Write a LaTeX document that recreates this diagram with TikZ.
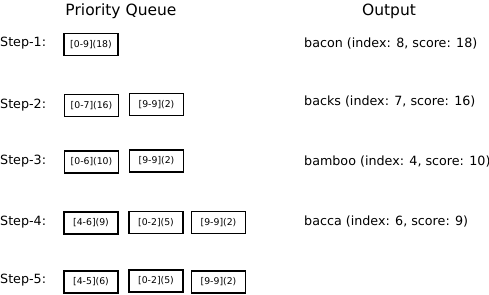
\documentclass[tikz,border=0pt]{standalone}
\usepackage{fontspec}
\setmainfont{DejaVu Sans}
\usepackage{tikz}

\begin{document}
\begin{tikzpicture}[x=1pt,y=-1pt]
      \tikzstyle{qbox}=[draw,line width=1.8pt,minimum width=54pt,minimum height=22pt,inner sep=0pt,font=\fontsize{9.3}{10}\selectfont]
      \tikzstyle{steplabel}=[anchor=base west,inner sep=0pt,font=\fontsize{12.7}{14}\selectfont]
      \tikzstyle{title}=[anchor=base,inner sep=0pt,font=\fontsize{15.5}{17}\selectfont]
      \useasboundingbox (0,0) rectangle (489,294);
      \node[title] (T_Q) at (121,15.5) {Priority Queue};
      \node[title] (T_O) at (389,15.5) {Output};
      % steps
      \node[steplabel] (S_1) at (0,47)    {Step-1:};
      \node[steplabel] (S_2) at (0,108)   {Step-2:};
      \node[steplabel] (S_3) at (0,164.5) {Step-3:};
      \node[steplabel] (S_4) at (0,225.5) {Step-4:};
      \node[steplabel] (S_5) at (0,283.5) {Step-5:};
      % queue
      \node[qbox] (Q_1_1) at (91,44.5)    {[0-9](18)};
      \node[qbox] (Q_2_1) at (91.5,105.5) {[0-7](16)};
      \node[qbox] (Q_2_2) at (156.5,104.5){[9-9](2)};
      \node[qbox] (Q_3_1) at (91.5,162)   {[0-6](10)};
      \node[qbox] (Q_3_2) at (156.5,161)  {[9-9](2)};
      \node[qbox] (Q_4_1) at (91,223)     {[4-6](9)};
      \node[qbox] (Q_4_2) at (156,222.5)  {[0-2](5)};
      \node[qbox] (Q_4_3) at (218.5,222.5){[9-9](2)};
      \node[qbox] (Q_5_1) at (91,282)     {[4-5](6)};
      \node[qbox] (Q_5_2) at (156,281)    {[0-2](5)};
      \node[qbox] (Q_5_3) at (218.5,282)  {[9-9](2)};
      % output
      \node[steplabel] (O_1) at (304,47.5)  {bacon (index: 8, score: 18)};
      \node[steplabel] (O_2) at (304,105.5) {backs (index: 7, score: 16)};
      \node[steplabel] (O_3) at (304,165)   {bamboo (index: 4, score: 10)};
      \node[steplabel] (O_4) at (304,225)   {bacca (index: 6, score: 9)};
    \end{tikzpicture}
\end{document}
